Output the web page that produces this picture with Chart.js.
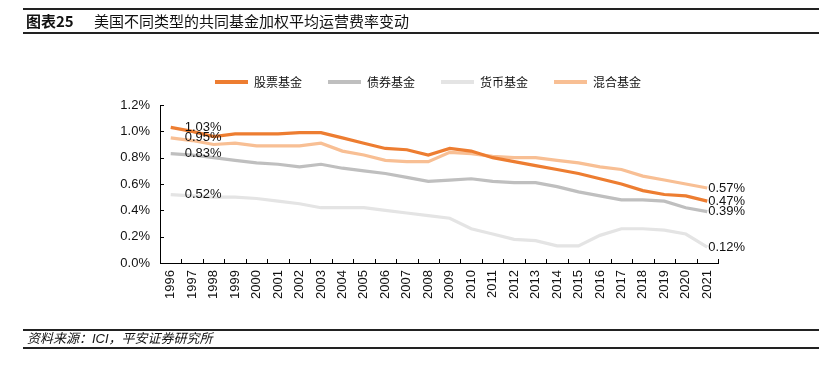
<!DOCTYPE html>
<html>
<head>
<meta charset="utf-8">
<script src="https://cdn.jsdelivr.net/npm/chart.js@4"></script>
<style>
  body { margin: 0; width: 830px; height: 371px; background: #fff; position: relative; overflow: hidden; }
  .bar { position: absolute; left: 23px; width: 796px; box-sizing: border-box;
         border-top: 2px solid #222; border-bottom: 2px solid #222; z-index: 2; }
  #title { top: 8px; height: 26px; font-family: "Noto Sans CJK SC", sans-serif; font-size: 15px; line-height: 22px; color: #111; }
  #title .num { position: absolute; left: 3px; font-weight: bold; }
  #title .txt { position: absolute; left: 71px; }
  #source { top: 329px; height: 20px; font-family: "Liberation Sans", "Noto Sans CJK SC", sans-serif;
            font-size: 13px; font-style: italic; line-height: 16px; color: #111; }
  #source span { position: absolute; left: 4px; }
  #wrap { position: absolute; left: 0; top: 0; width: 830px; height: 371px; }
</style>
</head>
<body>
<div id="title" class="bar"><span class="num">图表25</span><span class="txt">美国不同类型的共同基金加权平均运营费率变动</span></div>
<div id="wrap"><canvas id="feeChart"></canvas></div>
<div id="source" class="bar"><span>资料来源：ICI，平安证券研究所</span></div>

<script>
// data (%)
const years = ['1996','1997','1998','1999','2000','2001','2002','2003','2004','2005','2006','2007','2008',
               '2009','2010','2011','2012','2013','2014','2015','2016','2017','2018','2019','2020','2021'];
const stockFund = [1.03,1.00,0.96,0.98,0.98,0.98,0.99,0.99,0.95,0.91,0.87,0.86,0.82,
                   0.87,0.85,0.80,0.77,0.74,0.71,0.68,0.64,0.60,0.55,0.52,0.51,0.47];
const bondFund  = [0.83,0.82,0.80,0.78,0.76,0.75,0.73,0.75,0.72,0.70,0.68,0.65,0.62,
                   0.63,0.64,0.62,0.61,0.61,0.58,0.54,0.51,0.48,0.48,0.47,0.42,0.39];
const moneyFund = [0.52,0.51,0.50,0.50,0.49,0.47,0.45,0.42,0.42,0.42,0.40,0.38,0.36,
                   0.34,0.26,0.22,0.18,0.17,0.13,0.13,0.21,0.26,0.26,0.25,0.22,0.12];
const hybridFund = [0.95,0.93,0.90,0.91,0.89,0.89,0.89,0.91,0.85,0.82,0.78,0.77,0.77,
                    0.84,0.83,0.81,0.80,0.80,0.78,0.76,0.73,0.71,0.66,0.63,0.60,0.57];
const seriesNames = ['股票基金', '债券基金', '货币基金', '混合基金'];
const seriesColors = ['#ED7D31', '#BFBFBF', '#E4E4E4', '#F8BF94'];
const yTickLabels = ['0.0%','0.2%','0.4%','0.6%','0.8%','1.0%','1.2%'];

const pct = v => v.toFixed(2) + '%';

// small inward tick marks like the original
const innerTicks = {
  id: 'innerTicks',
  afterDatasetsDraw(chart) {
    const { ctx, scales: { x, y } } = chart;
    ctx.save();
    ctx.strokeStyle = '#000';
    ctx.lineWidth = 1;
    ctx.beginPath();
    const step = (x.right - x.left) / years.length;
    for (let i = 1; i <= years.length; i++) {
      const px = Math.round(x.left + step * i) + 0.5;
      ctx.moveTo(px, y.bottom);
      ctx.lineTo(px, y.bottom - 4);
    }
    y.ticks.forEach((t, i) => {
      const py = Math.round(y.getPixelForTick(i)) + 0.5;
      ctx.moveTo(x.left, py);
      ctx.lineTo(x.left + 4, py);
    });
    ctx.stroke();
    ctx.restore();
  }
};

// first / last value labels
const endLabels = {
  id: 'endLabels',
  afterDatasetsDraw(chart) {
    const ctx = chart.ctx;
    ctx.save();
    ctx.font = '13px "Liberation Sans", Arial, sans-serif';
    ctx.fillStyle = '#111';
    ctx.textAlign = 'left';
    ctx.textBaseline = 'middle';
    chart.data.datasets.forEach((ds, i) => {
      const pts = chart.getDatasetMeta(i).data;
      const n = pts.length - 1;
      ctx.fillText(pct(ds.data[0]), pts[0].x + 14, pts[0].y);
      ctx.fillText(pct(ds.data[n]), pts[n].x + 1, pts[n].y);
    });
    ctx.restore();
  }
};

// keep the legend short so the plot starts where it should
const legendHeight = {
  id: 'legendHeight',
  afterInit(chart) {
    const fit = chart.legend.fit;
    chart.legend.fit = function () { fit.call(this); this.height = 55; };
  }
};

document.addEventListener('DOMContentLoaded', function () {
  Chart.defaults.font.family = '"Liberation Sans", "Noto Sans CJK SC", sans-serif';
  Chart.defaults.font.size = 13;
  Chart.defaults.color = '#111';

  const values = [stockFund, bondFund, moneyFund, hybridFund];
  const ctx = document.getElementById('feeChart').getContext('2d');
  new Chart(ctx, {
    type: 'line',
    data: {
      labels: years,
      datasets: values.map((v, i) => ({
        label: seriesNames[i],
        data: v,
        borderColor: seriesColors[i],
        backgroundColor: seriesColors[i],
        borderWidth: 3.2,
        pointRadius: 0,
        tension: 0
      }))
    },
    options: {
      responsive: true,
      maintainAspectRatio: false,
      animation: false,
      layout: { padding: { left: 120, right: 94, top: 50, bottom: 68 } },
      plugins: {
        legend: {
          position: 'top',
          labels: {
            boxWidth: 33,
            boxHeight: 4,
            padding: 26,
            color: '#111',
            font: { size: 12, family: '"Noto Sans CJK SC", sans-serif' },
            generateLabels: chart => Chart.defaults.plugins.legend.labels.generateLabels(chart)
              .map(l => ({ ...l, lineWidth: 0 }))
          }
        },
        tooltip: { enabled: false }
      },
      scales: {
        x: {
          offset: true,
          grid: { display: false, drawTicks: false },
          border: { display: true, color: '#000', width: 1 },
          ticks: { minRotation: 90, maxRotation: 90, padding: 7, autoSkip: false, color: '#111' },
          afterFit: s => { s.height = 40; }
        },
        y: {
          min: 0,
          max: 1.2,
          grid: { display: false, drawTicks: false },
          border: { display: true, color: '#000', width: 1 },
          ticks: { stepSize: 0.2, padding: 10, color: '#111', callback: (v, i) => yTickLabels[i] },
          afterFit: s => { s.width = 40; }
        },
        y2: {
          position: 'right',
          grid: { display: false, drawTicks: false },
          border: { display: false },
          ticks: { display: false },
          afterFit: s => { s.width = 18; }
        }
      }
    },
    plugins: [innerTicks, endLabels, legendHeight]
  });
});
</script>
</body>
</html>
